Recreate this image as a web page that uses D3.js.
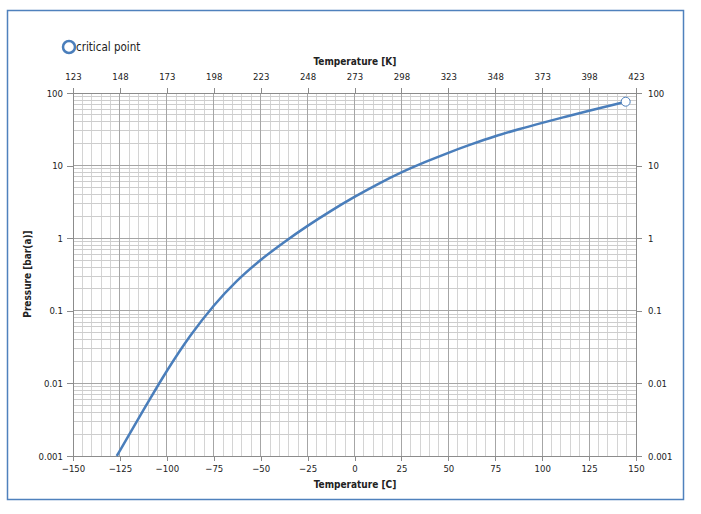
<!DOCTYPE html>
<html>
<head>
<meta charset="utf-8">
<script src="https://cdn.jsdelivr.net/npm/d3@7"></script>
<style>
    body { margin: 0; background: #fff; }
    text { font-family: "DejaVu Sans Condensed", "DejaVu Sans", sans-serif; fill: #222; }
    .axis text { font-size: 9.5px; }
    .axis path, .axis line { stroke: #8c8c8c; shape-rendering: crispEdges; }
    .title { font-size: 10px; font-weight: bold; }
</style>
</head>
<body>
<div id="chart"></div>
<script>
// saturation curve (temperature in C, pressure in bar(a))
const tempC = [-126.7, -125, -112.5, -100, -87.5, -75, -62.5, -50, -37.5, -25, -12.5,
    0, 12.5, 25, 37.5, 50, 62.5, 75, 87.5, 100, 112.5, 125, 137.5, 144.5];
const pressure = [0.001, 0.00119, 0.00427, 0.0148, 0.0452, 0.1175, 0.26, 0.501, 0.881, 1.479, 2.382,
    3.70, 5.56, 8.05, 11.14, 15.0, 19.72, 25.35, 31.62, 38.82, 47.1, 56.9, 68.4, 75.9];

const criticalPoint = [144.5, 75.9];

const xTicksC = [-150, -125, -100, -75, -50, -25, 0, 25, 50, 75, 100, 125, 150];
const xTicksK = [123, 148, 173, 198, 223, 248, 273, 298, 323, 348, 373, 398, 423];
const yTicks = [0.001, 0.01, 0.1, 1, 10, 100];

const W = 701, H = 514;
const plot = {left: 73, right: 636, top: 93, bottom: 456};

const svg = d3.select("#chart")
    .append("svg")
    .attr("width", W)
    .attr("height", H);

// outer frame
svg.append("rect")
    .attr("x", 7.5).attr("y", 10.5)
    .attr("width", 676).attr("height", 489)
    .attr("fill", "none")
    .attr("stroke", "#4f81bd")
    .attr("stroke-width", 1.5);

const xScale = d3.scaleLinear()
    .domain([-150, 150])
    .range([plot.left, plot.right]);

const xScaleK = d3.scaleLinear()
    .domain([123, 423])
    .range([plot.left, plot.right]);

const yScale = d3.scaleLog()
    .domain([0.001, 100])
    .range([plot.bottom, plot.top]);

// grid: minor first, then major
const minorX = d3.range(-150, 151, 5).filter(v => v % 25 !== 0);
const minorY = [];
yTicks.slice(0, -1).forEach(d => {
    for (let k = 2; k <= 9; k++) minorY.push(d * k);
});

const grid = svg.append("g").attr("shape-rendering", "crispEdges");

grid.selectAll(".minor-x")
    .data(minorX)
    .join("line")
    .attr("x1", d => xScale(d)).attr("x2", d => xScale(d))
    .attr("y1", plot.top).attr("y2", plot.bottom)
    .attr("stroke", "#d4d4d4");

grid.selectAll(".minor-y")
    .data(minorY)
    .join("line")
    .attr("y1", d => yScale(d)).attr("y2", d => yScale(d))
    .attr("x1", plot.left).attr("x2", plot.right)
    .attr("stroke", "#cdcdcd");

grid.selectAll(".major-x")
    .data(xTicksC)
    .join("line")
    .attr("x1", d => xScale(d)).attr("x2", d => xScale(d))
    .attr("y1", plot.top).attr("y2", plot.bottom)
    .attr("stroke", "#a6a6a6");

grid.selectAll(".major-y")
    .data(yTicks)
    .join("line")
    .attr("y1", d => yScale(d)).attr("y2", d => yScale(d))
    .attr("x1", plot.left).attr("x2", plot.right)
    .attr("stroke", "#a6a6a6");

// axes
svg.append("g")
    .attr("class", "axis")
    .attr("transform", "translate(0," + plot.bottom + ")")
    .call(d3.axisBottom(xScale).tickValues(xTicksC).tickSize(5).tickPadding(4).tickFormat(d3.format("d")));

svg.append("g")
    .attr("class", "axis")
    .attr("transform", "translate(0," + plot.top + ")")
    .call(d3.axisTop(xScaleK).tickValues(xTicksK).tickSize(5).tickPadding(8).tickFormat(d3.format("d")));

const yFmt = d => String(d);

svg.append("g")
    .attr("class", "axis")
    .attr("transform", "translate(" + plot.left + ",0)")
    .call(d3.axisLeft(yScale).tickValues(yTicks).tickSize(6).tickPadding(4).tickFormat(yFmt));

svg.append("g")
    .attr("class", "axis")
    .attr("transform", "translate(" + plot.right + ",0)")
    .call(d3.axisRight(yScale).tickValues(yTicks).tickSize(6).tickPadding(6).tickFormat(yFmt));

// axis titles
svg.append("text")
    .attr("class", "title")
    .attr("x", 355).attr("y", 65)
    .attr("text-anchor", "middle")
    .text("Temperature [K]");

svg.append("text")
    .attr("class", "title")
    .attr("x", 355).attr("y", 488)
    .attr("text-anchor", "middle")
    .text("Temperature [C]");

svg.append("text")
    .attr("class", "title")
    .attr("transform", "translate(31,274) rotate(-90)")
    .attr("text-anchor", "middle")
    .text("Pressure [bar(a)]");

// the curve
const curveData = tempC.map((t, i) => ({t: t, p: pressure[i]}));

const line = d3.line()
    .x(d => xScale(d.t))
    .y(d => yScale(d.p))
    .curve(d3.curveMonotoneX);

svg.append("path")
    .datum(curveData)
    .attr("d", line)
    .attr("fill", "none")
    .attr("stroke", "#4a7ebb")
    .attr("stroke-width", 2.5);

svg.append("circle")
    .attr("cx", xScale(criticalPoint[0]))
    .attr("cy", yScale(criticalPoint[1]))
    .attr("r", 4.5)
    .attr("fill", "#fff")
    .attr("stroke", "#4a7ebb")
    .attr("stroke-width", 1);

// legend
svg.append("circle")
    .attr("cx", 69).attr("cy", 47)
    .attr("r", 6)
    .attr("fill", "#fff")
    .attr("stroke", "#4a7ebb")
    .attr("stroke-width", 2.5);

svg.append("text")
    .attr("x", 76).attr("y", 51)
    .style("font-size", "11.5px")
    .text("critical point");
</script>
</body>
</html>
